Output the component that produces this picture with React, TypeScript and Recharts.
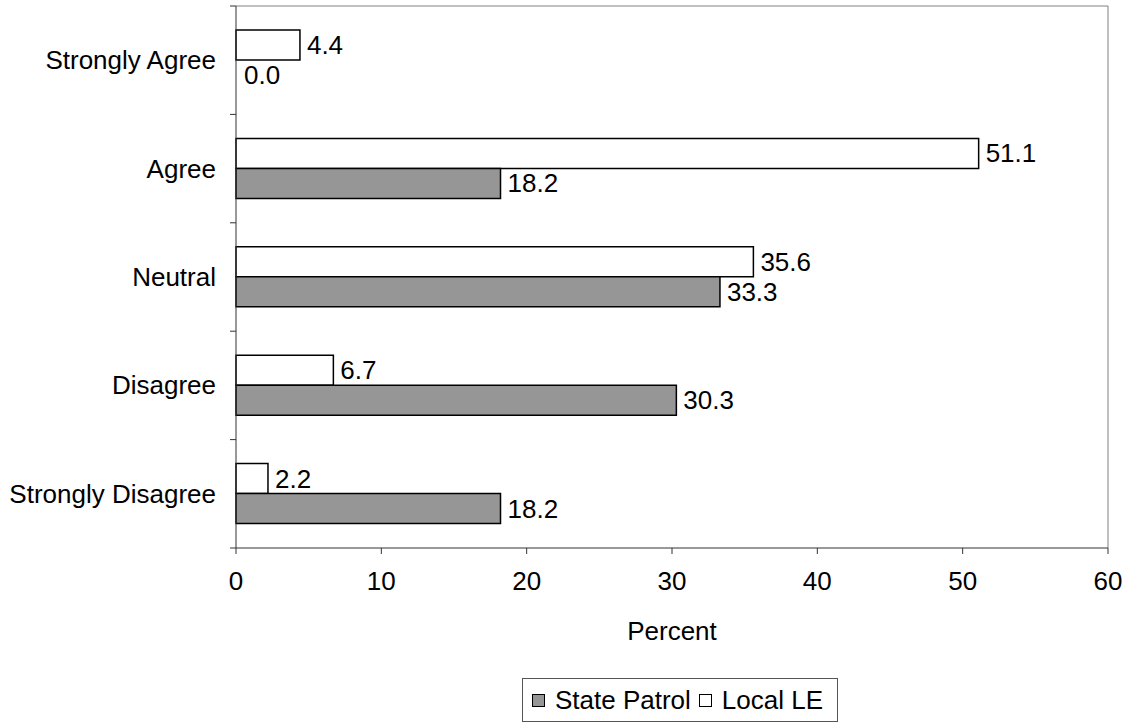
import { Bar, BarChart, Cell, LabelList, Legend, ReferenceLine, XAxis, YAxis } from "recharts";

// Survey responses, percent of respondents.
const CATEGORIES = ["Strongly Agree", "Agree", "Neutral", "Disagree", "Strongly Disagree"];
const LOCAL_LE = [4.4, 51.1, 35.6, 6.7, 2.2];
const STATE_PATROL = [0.0, 18.2, 33.3, 30.3, 18.2];
const X_TICKS = [0, 10, 20, 30, 40, 50, 60];

const SERIES = [
  { key: "state", name: "State Patrol", fill: "#969696" },
  { key: "local", name: "Local LE", fill: "#ffffff" },
];

const FONT = "'Liberation Sans', Arial, sans-serif";
const FONT_SIZE = 26;
const AXIS_STROKE = "#333333";
const BORDER = "#808080";

const WIDTH = 1129;
const HEIGHT = 723;
const PLOT_H = 542;

const data = CATEGORIES.map((category, i) => ({
  category,
  local: LOCAL_LE[i],
  state: STATE_PATROL[i],
}));

function CategoryTick(props: any) {
  const { x, y, payload, index, visibleTicksCount } = props;
  const half = payload?.offset || PLOT_H / CATEGORIES.length / 2;
  const ax = x + 20;
  return (
    <g>
      <line x1={ax - 6} x2={ax} y1={y - half} y2={y - half} stroke={AXIS_STROKE} />
      {index === visibleTicksCount - 1 && (
        <line x1={ax - 6} x2={ax} y1={y + half} y2={y + half} stroke={AXIS_STROKE} />
      )}
      <text
        x={x}
        y={y}
        textAnchor="end"
        dominantBaseline="central"
        fontSize={FONT_SIZE}
        fontFamily={FONT}
        fill="#000"
      >
        {payload.value}
      </text>
    </g>
  );
}

// value label just past the bar end
function ValueLabel(props: any) {
  const { x, y, width, height, value } = props;
  if (value == null) return null;
  return (
    <text
      x={Number(x) + Number(width || 0) + 7}
      y={Number(y) + Number(height || 0) / 2}
      dominantBaseline="central"
      fontSize={FONT_SIZE}
      fontFamily={FONT}
      fill="#000"
    >
      {Number(value).toFixed(1)}
    </text>
  );
}

function LegendBox() {
  return (
    <div
      style={{
        display: "flex",
        alignItems: "center",
        height: 44,
        boxSizing: "border-box",
        border: "1px solid #555",
        background: "#fff",
        padding: "0 14px 0 9px",
        fontFamily: FONT,
        fontSize: FONT_SIZE,
        color: "#000",
        whiteSpace: "nowrap",
      }}
    >
      {SERIES.map((s, i) => (
        <span key={s.key} style={{ display: "flex", alignItems: "center", marginLeft: i ? 8 : 0 }}>
          <span
            style={{
              display: "inline-block",
              width: 11,
              height: 11,
              border: "1px solid #000",
              background: s.fill,
              marginRight: 10,
            }}
          />
          {s.name}
        </span>
      ))}
    </div>
  );
}

// zero values still need a (stroke-less) sliver so the "0.0" label gets placed
const zeroSliver = (value: any) => (Number(value) === 0 ? 1 : 0);

export default function App() {
  return (
    <div style={{ position: "absolute", left: 0, top: 0, background: "#fff" }}>
      <BarChart
        width={WIDTH}
        height={HEIGHT}
        data={data}
        layout="vertical"
        barGap={0}
        barSize={30}
        margin={{ top: 6, right: 21, bottom: 1, left: 0 }}
      >
        <XAxis
          type="number"
          domain={[0, 60]}
          ticks={X_TICKS}
          height={130}
          tickSize={6}
          tickMargin={18}
          stroke={AXIS_STROKE}
          tick={{ fontSize: FONT_SIZE, fontFamily: FONT, fill: "#000" }}
          label={{
            value: "Percent",
            position: "insideTop",
            offset: 74,
            fontSize: FONT_SIZE,
            fontFamily: FONT,
            fill: "#000",
          }}
        />
        <YAxis
          type="category"
          dataKey="category"
          width={236}
          tickSize={6}
          tickMargin={14}
          tickLine={false}
          stroke={AXIS_STROKE}
          tick={<CategoryTick />}
          interval={0}
        />
        <ReferenceLine x={60} stroke={BORDER} />
        <ReferenceLine y={CATEGORIES[0]} position="start" stroke={BORDER} />
        <Bar
          dataKey="local"
          name="Local LE"
          fill="#ffffff"
          stroke="#000"
          strokeWidth={1.5}
          minPointSize={zeroSliver}
          isAnimationActive={false}
        >
          {LOCAL_LE.map((v, i) => (
            <Cell key={i} stroke={v === 0 ? "none" : "#000"} />
          ))}
          <LabelList dataKey="local" content={<ValueLabel />} />
        </Bar>
        <Bar
          dataKey="state"
          name="State Patrol"
          fill="#969696"
          stroke="#000"
          strokeWidth={1.5}
          minPointSize={zeroSliver}
          isAnimationActive={false}
        >
          {STATE_PATROL.map((v, i) => (
            <Cell key={i} stroke={v === 0 ? "none" : "#000"} fill={v === 0 ? "none" : "#969696"} />
          ))}
          <LabelList dataKey="state" content={<ValueLabel />} />
        </Bar>
        <Legend
          verticalAlign="bottom"
          align="center"
          content={<LegendBox />}
          wrapperStyle={{ left: 522, width: "auto" }}
        />
      </BarChart>
    </div>
  );
}
